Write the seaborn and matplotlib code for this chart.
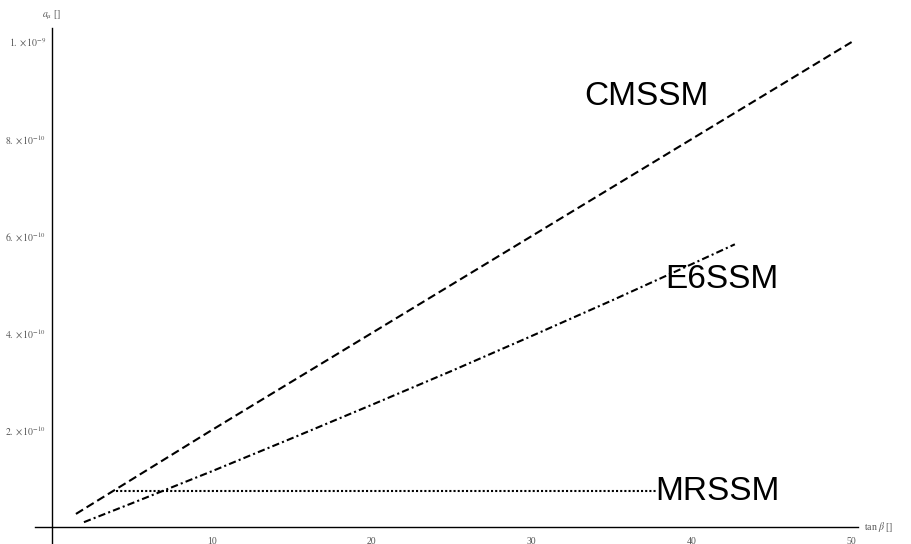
import numpy as np
import pandas as pd
import seaborn as sns
import matplotlib.pyplot as plt
from matplotlib.ticker import FixedLocator, FuncFormatter

# values (tan beta, a_mu)
cmssm_tb = [1.5, 10, 20, 30, 40, 50]
cmssm_amu = [0.27e-10, 2.0e-10, 4.0e-10, 6.0e-10, 8.0e-10, 1.0e-9]

e6ssm_tb = [2, 5, 10, 15, 20, 25, 30, 35, 40, 42.7]
e6ssm_amu = [0.10e-10, 0.49e-10, 1.15e-10, 1.83e-10, 2.52e-10, 3.22e-10,
             3.94e-10, 4.67e-10, 5.42e-10, 5.83e-10]

mrssm_tb = [4, 37.8]
mrssm_amu = [0.74e-10, 0.74e-10]

x_major = [10, 20, 30, 40, 50]
y_major = [2e-10, 4e-10, 6e-10, 8e-10, 1e-9]

sns.set_style("white")
plt.rcParams["mathtext.fontset"] = "stix"

fig = plt.figure(figsize=(9.11, 5.44), dpi=100)
ax = fig.add_axes([35 / 911, 0, 823 / 911, 516 / 544])

sns.lineplot(x=cmssm_tb, y=cmssm_amu, ax=ax, color="black", lw=1.5,
             linestyle=(0, (4, 2)))
sns.lineplot(x=e6ssm_tb, y=e6ssm_amu, ax=ax, color="black", lw=1.5,
             linestyle=(0, (3.5, 1.5, 1, 1.5)))
sns.lineplot(x=mrssm_tb, y=mrssm_amu, ax=ax, color="black", lw=1.5,
             linestyle=(0, (1, 1)))

ax.set_xlim(-1.06, 50.4)
ax.set_ylim(-0.035e-9, 1.029e-9)

# axes crossing at the origin, mathematica style
for s in ["top", "right"]:
    ax.spines[s].set_visible(False)
ax.spines["left"].set_position(("data", 0))
ax.spines["bottom"].set_position(("data", 0))
for s in ["left", "bottom"]:
    ax.spines[s].set_color("black")
    ax.spines[s].set_linewidth(1.0)

ax.xaxis.set_major_locator(FixedLocator(x_major))
ax.xaxis.set_minor_locator(FixedLocator([v for v in range(2, 51, 2) if v % 10]))
ax.yaxis.set_major_locator(FixedLocator(y_major))
ax.yaxis.set_minor_locator(FixedLocator([k * 0.5e-10 for k in range(1, 21) if k % 4]))


def sci(v, pos):
    e = int(np.floor(np.log10(v) + 1e-9))
    m = v / 10 ** e
    return r"$%d.\times 10^{%d}$" % (round(m), e)


ax.yaxis.set_major_formatter(FuncFormatter(sci))
ax.xaxis.set_major_formatter(FuncFormatter(lambda v, p: "%d" % v))

ax.tick_params(which="both", direction="in", colors="black", labelcolor="#555555")
ax.tick_params(which="major", length=4, width=0.8, labelsize=7)
ax.tick_params(which="minor", length=2.5, width=0.6)
ax.tick_params(axis="x", which="major", pad=7)
ax.tick_params(axis="y", which="major", pad=4)
for lab in ax.get_xticklabels() + ax.get_yticklabels():
    lab.set_family("Liberation Serif")

ax.text(0, 1.055e-9, r"$a_\mu$ []", ha="center", va="center", fontsize=7,
        color="#555555", family="Liberation Serif", clip_on=False)
ax.text(50.8, 0, r"tan $\beta$ []", ha="left", va="center", fontsize=7,
        color="#555555", family="Liberation Serif", clip_on=False)

ax.text(37.2, 0.888e-9, "CMSSM", fontsize=24, color="black",
        family="Liberation Sans", ha="center", va="center")
ax.text(41.9, 0.51e-9, "E6SSM", fontsize=24, color="black",
        family="Liberation Sans", ha="center", va="center")
ax.text(41.6, 0.074e-9, "MRSSM", fontsize=24, color="black",
        family="Liberation Sans", ha="center", va="center")

fig.savefig("out.png", dpi=100)
